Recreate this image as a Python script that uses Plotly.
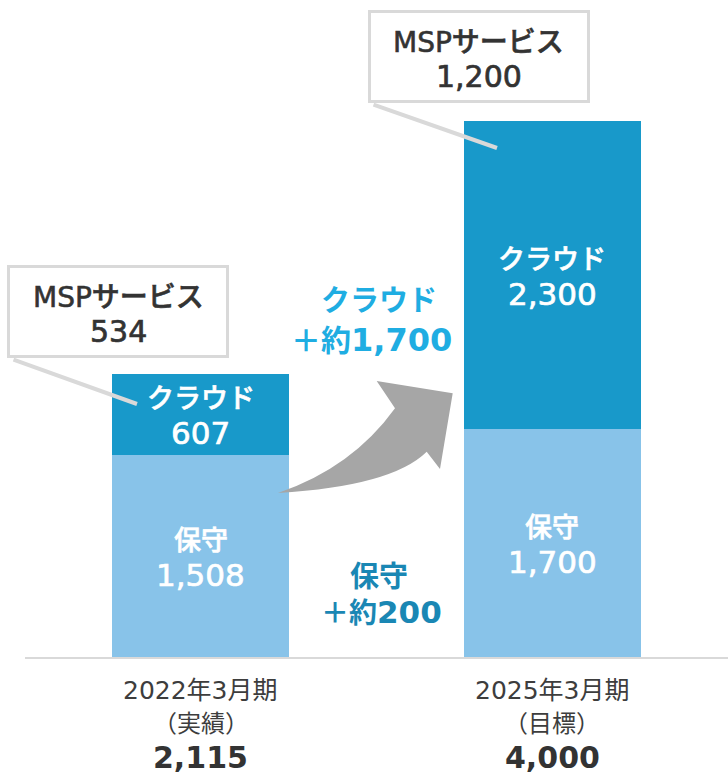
import plotly.graph_objects as go

# ---- data ----
categories = ["2022年3月期", "2025年3月期"]
period_notes = ["（実績）", "（目標）"]
segment_names = ["保守", "クラウド"]
maintenance = [1508, 1700]
cloud = [607, 2300]
msp = [534, 1200]
totals = [2115, 4000]
cloud_increase = 1700
maint_increase = 200

# ---- styling ----
JP = "Noto Sans CJK JP"
MIX = "DejaVu Sans, Noto Sans CJK JP"
C_MAINT = "#88C3E9"
C_CLOUD = "#1899CA"
C_CLOUD_TXT = "#1FADE2"
C_MAINT_TXT = "#1A87B4"
C_GRAY = "#D9D9D9"
C_ARROW = "#A6A6A6"
C_TEXT = "#333333"

W, H = 728, 774
L_M, R_M, T_M, B_M = 25, 0, 0, 117
PLOT_W = W - L_M - R_M
PLOT_H = H - T_M - B_M
YMAX = 4904.5
XR = (-0.5, 1.5)
BAR_W = 0.503


def px2x(px):
    return XR[0] + (px - L_M) / PLOT_W * (XR[1] - XR[0])


def py2y(py):
    return (T_M + PLOT_H - py) / PLOT_H * YMAX


def py2paper(py):
    return (T_M + PLOT_H - py) / PLOT_H


def heavy(text, color, w=0.6):
    return f"<span style='stroke:{color};stroke-width:{w}px'>{text}</span>"


xs = list(range(len(categories)))
fmt = lambda v: f"{v:,}"

fig = go.Figure()
fig.add_trace(go.Bar(x=xs, y=maintenance, width=BAR_W, name=segment_names[0],
                     marker=dict(color=C_MAINT, line=dict(width=0)), hoverinfo="skip"))
fig.add_trace(go.Bar(x=xs, y=cloud, width=BAR_W, name=segment_names[1],
                     marker=dict(color=C_CLOUD, line=dict(width=0)), hoverinfo="skip"))

annotations = []


def add_text(x, y, text, size, color, family=MIX, weight="normal", xref="x", yref="y",
             yshift=0):
    annotations.append(dict(x=x, y=y, xref=xref, yref=yref, text=text, showarrow=False,
                            yshift=yshift, xanchor="center", yanchor="middle",
                            font=dict(family=family, size=size, color=color, weight=weight)))


# segment labels (name + value) centred in each stacked segment
for i in xs:
    segs = [(segment_names[0], 0, maintenance[i]), (segment_names[1], maintenance[i], cloud[i])]
    for name, base, val in segs:
        yc = base + val / 2
        add_text(xs[i], yc, heavy(name, "white", 0.6), 27, "white", family=JP, weight=500,
                 yshift=18)
        add_text(xs[i], yc, heavy(fmt(val), "white", 0.7), 31, "white",
                 family="DejaVu Sans", yshift=-19)

# MSP callouts: pointer line + box + two text lines
callouts = [
    dict(end=(137, 404), start=(12, 359), center=(118, 311.5), l1=297, l2=331),
    dict(end=(497, 148), start=(372, 104), center=(478.5, 56), l1=42, l2=76),
]
for i, c in enumerate(callouts):
    annotations.append(dict(
        x=px2x(c["end"][0]), y=py2y(c["end"][1]), xref="x", yref="y",
        text="", showarrow=True, arrowhead=0, arrowwidth=4, arrowcolor=C_GRAY,
        ax=c["start"][0] - c["end"][0], ay=c["start"][1] - c["end"][1],
        axref="pixel", ayref="pixel",
    ))
    annotations.append(dict(
        x=px2x(c["center"][0]), y=py2y(c["center"][1]), xref="x", yref="y",
        text=" ", showarrow=False, font=dict(size=10),
        bgcolor="white", bordercolor=C_GRAY, borderwidth=3, borderpad=0,
        width=216, height=87,
    ))
    add_text(px2x(c["center"][0]), py2y(c["l1"]), heavy("MSPサービス", C_TEXT, 0.6), 28,
             C_TEXT, weight=500)
    add_text(px2x(c["center"][0]), py2y(c["l2"]), heavy(fmt(msp[i]), C_TEXT, 0.7), 30,
             C_TEXT, family="DejaVu Sans")

# growth labels
add_text(px2x(379), py2y(298), "<b>クラウド</b>", 29, C_CLOUD_TXT, family=JP)
add_text(px2x(371), py2y(338),
         f"<b>＋約<span style='font-family:DejaVu Sans;font-size:32px'>{fmt(cloud_increase)}</span></b>",
         30, C_CLOUD_TXT, family=JP)
add_text(px2x(379), py2y(574), "<b>保守</b>", 29, C_MAINT_TXT, family=JP)
add_text(px2x(381), py2y(611),
         f"<b>＋約<span style='font-family:DejaVu Sans;font-size:31px'>{fmt(maint_increase)}</span></b>",
         28, C_MAINT_TXT, family=JP)

# category labels below the axis
for i, cat in enumerate(categories):
    add_text(xs[i], py2paper(690), cat, 25, "#3D3D3D", yref="paper")
    add_text(xs[i], py2paper(721), period_notes[i], 24, "#3D3D3D", family=JP, yref="paper")
    add_text(xs[i], py2paper(757), f"<b>{fmt(totals[i])}</b>", 30, C_TEXT,
             family="DejaVu Sans", yref="paper")

# curved block arrow (decorative)
T = (278, 493); C1 = (352, 468); U = (395, 408.3); B1 = (376.7, 381)
P = (452.7, 393.3); B2 = (440, 469); Lw = (426.7, 451.7); C2 = (392, 486)


def pt(p):
    return f"{px2x(p[0])},{py2y(p[1])}"


path = (f"M {pt(T)} Q {pt(C1)} {pt(U)} L {pt(B1)} L {pt(P)} L {pt(B2)} "
        f"L {pt(Lw)} Q {pt(C2)} {pt(T)} Z")

fig.update_layout(
    width=W, height=H, barmode="stack", showlegend=False,
    margin=dict(l=L_M, r=R_M, t=T_M, b=B_M, pad=0),
    paper_bgcolor="white", plot_bgcolor="white",
    xaxis=dict(range=list(XR), showticklabels=False, showgrid=False, zeroline=False,
               showline=True, linecolor=C_GRAY, linewidth=2, ticks=""),
    yaxis=dict(range=[0, YMAX], visible=False, showgrid=False, zeroline=False),
    annotations=annotations,
    shapes=[dict(type="path", path=path, xref="x", yref="y",
                 fillcolor=C_ARROW, line=dict(width=0), layer="above")],
    font=dict(family=MIX),
)

fig.write_html("out.html", config={"displayModeBar": False},
               post_script="document.body.style.margin='0px';")
